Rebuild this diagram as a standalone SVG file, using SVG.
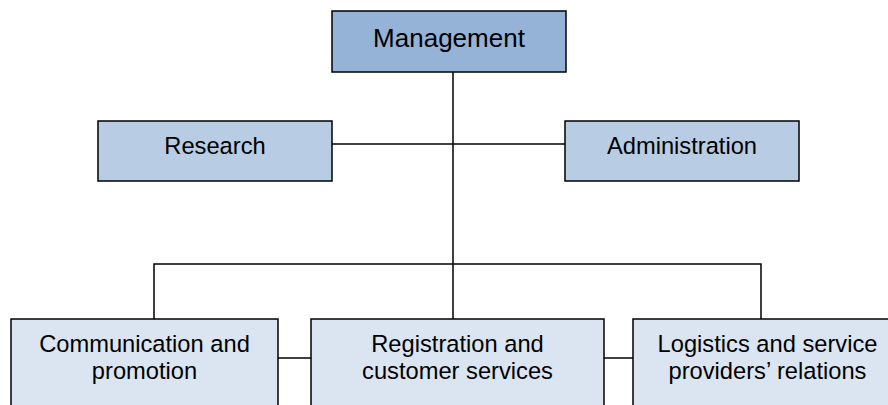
<svg xmlns="http://www.w3.org/2000/svg" width="888" height="405" viewBox="0 0 888 405">
<style>
.box{stroke:#000;stroke-width:1.5}
.l1{fill:#95B3D7}
.l2{fill:#B8CCE4}
.l3{fill:#DBE5F1}
text{font-family:"Liberation Sans",Arial,sans-serif;font-size:23.7px;fill:#000;text-anchor:middle}
.con{stroke:#000;stroke-width:1.5;fill:none}
</style>
<rect width="888" height="405" fill="#fff"/>
<g id="connectors">
<line class="con" x1="453" y1="72" x2="453" y2="319"/>
<line class="con" x1="332" y1="144" x2="565" y2="144"/>
<polyline class="con" points="154,319 154,264 761,264 761,319"/>
<line class="con" x1="278" y1="358" x2="311" y2="358"/>
<line class="con" x1="604" y1="358" x2="633" y2="358"/>
</g>
<g id="management">
<rect class="box l1" x="332" y="11" width="234" height="61"/>
<text x="449" y="47" style="font-size:26px">Management</text>
</g>
<g id="research">
<rect class="box l2" x="98" y="121" width="234" height="60"/>
<text x="215" y="154">Research</text>
</g>
<g id="administration">
<rect class="box l2" x="565" y="121" width="234" height="60"/>
<text x="682" y="154">Administration</text>
</g>
<g id="communication">
<rect class="box l3" x="11" y="319" width="267" height="100"/>
<text x="144.5" y="352">Communication and</text>
<text x="144.5" y="379">promotion</text>
</g>
<g id="registration">
<rect class="box l3" x="311" y="319" width="293" height="100"/>
<text x="457.5" y="352">Registration and</text>
<text x="457.5" y="379">customer services</text>
</g>
<g id="logistics">
<rect class="box l3" x="633" y="319" width="269" height="100"/>
<text x="767.5" y="352">Logistics and service</text>
<text x="767.5" y="379">providers’ relations</text>
</g>
</svg>
